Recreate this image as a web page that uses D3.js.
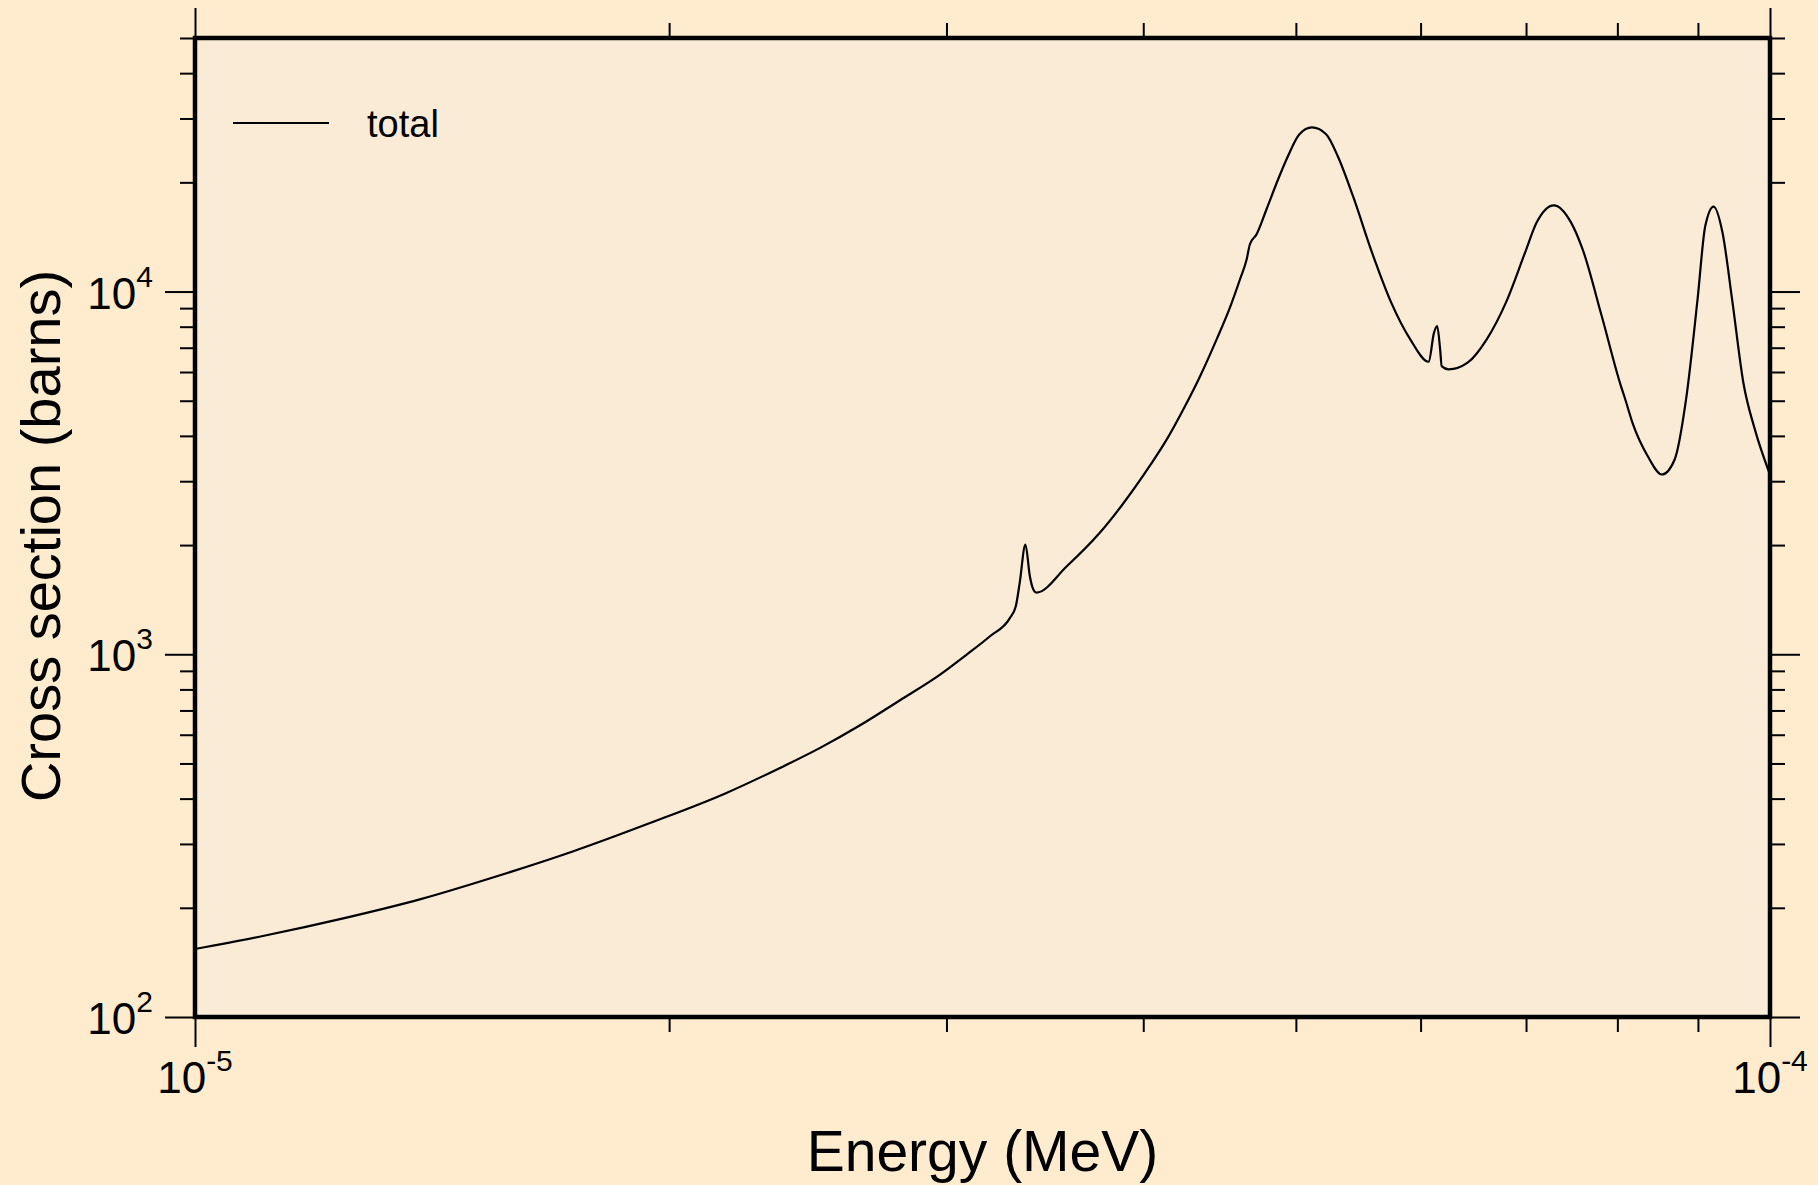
<!DOCTYPE html>
<html>
  <head>
    <meta charset="UTF-8" />
    <style>
      body { margin: 0; background-color: #ffebcd; }
      svg { display: block; }
      text { font-family: "Liberation Sans", Arial, sans-serif; fill: black; }
    </style>
  </head>
  <body>
    <svg></svg>
    <script src="https://d3js.org/d3.v7.min.js"></script>
    <script>
      // energy (MeV) and total cross section (barns)
      let energy = [
        1.000e-5, 1.110e-5, 1.242e-5, 1.389e-5, 1.553e-5, 1.737e-5, 1.943e-5, 2.173e-5, 2.352e-5, 2.494e-5,
        2.644e-5, 2.803e-5, 2.972e-5, 3.090e-5, 3.197e-5, 3.292e-5, 3.320e-5, 3.339e-5, 3.367e-5, 3.389e-5,
        3.403e-5, 3.421e-5, 3.577e-5, 3.755e-5, 3.872e-5, 4.040e-5, 4.140e-5, 4.241e-5, 4.346e-5, 4.453e-5,
        4.541e-5, 4.608e-5, 4.653e-5, 4.675e-5, 4.721e-5, 4.790e-5, 4.872e-5, 4.943e-5, 5.026e-5, 5.119e-5,
        5.226e-5, 5.315e-5, 5.435e-5, 5.589e-5, 5.748e-5, 5.910e-5, 6.071e-5, 6.119e-5, 6.147e-5, 6.174e-5,
        6.188e-5, 6.251e-5, 6.427e-5, 6.609e-5, 6.797e-5, 6.990e-5, 7.109e-5, 7.291e-5, 7.477e-5, 7.604e-5,
        7.819e-5, 8.042e-5, 8.087e-5, 8.179e-5, 8.364e-5, 8.539e-5, 8.699e-5, 8.845e-5, 8.995e-5, 9.097e-5,
        9.209e-5, 9.329e-5, 9.461e-5, 9.618e-5, 9.781e-5, 1.000e-4
      ];
      let sigma = [
        154, 168, 187, 211, 244, 286, 342, 414, 486, 552,
        637, 747, 879, 998, 1121, 1260, 1356, 1573, 2006, 1641,
        1524, 1479, 1748, 2165, 2555, 3315, 3911, 4730, 5834, 7383,
        9045, 10810, 12270, 13500, 14380, 16860, 20400, 23650, 27150, 28340,
        27150, 23650, 18340, 12800, 9320, 7383, 6406, 7701, 8034, 6926,
        6229, 6100, 6365, 7383, 9320, 12800, 15490, 17290, 15490, 13070,
        8558, 5486, 5096, 4347, 3516, 3130, 3443, 5041, 9517, 15160,
        17150, 14540, 9517, 5606, 4168, 3130
      ];

      let xMajor = [1e-5, 1e-4];
      let xMinor = [2e-5, 3e-5, 4e-5, 5e-5, 6e-5, 7e-5, 8e-5, 9e-5];
      let xLabels = ["-5", "-4"];
      let yMajor = [1e2, 1e3, 1e4];
      let yMinor = [200, 300, 400, 500, 600, 700, 800, 900,
                    2000, 3000, 4000, 5000, 6000, 7000, 8000, 9000,
                    20000, 30000, 40000, 50000];
      let yLabels = ["2", "3", "4"];

      let seriesName = "total";
      let xTitle = "Energy (MeV)";
      let yTitle = "Cross section (barns)";

      let width = 1818,
        height = 1185;
      let mLeft = 195, mRight = 1770, mTop = 38, mBottom = 1017;

      let svg = d3.select("svg").attr("width", width).attr("height", height);

      let x = d3.scaleLog().domain([1e-5, 1e-4]).range([mLeft, mRight]);
      let y = d3.scaleLog().domain([100, 50000]).range([mBottom, mTop]);

      // plot area
      svg.append("rect")
        .attr("x", mLeft).attr("y", mTop)
        .attr("width", mRight - mLeft).attr("height", mBottom - mTop)
        .attr("fill", "#faebd7");

      // ticks on all four sides, pointing outward
      function ticks(axisFn, scale, values, size, transform) {
        svg.append("g")
          .attr("transform", transform)
          .call(axisFn(scale).tickValues(values).tickSize(size).tickFormat(""))
          .call(g => g.select(".domain").remove())
          .selectAll("line").attr("stroke", "black").attr("stroke-width", 2);
      }
      ticks(d3.axisBottom, x, xMinor, 15, `translate(0,${mBottom})`);
      ticks(d3.axisBottom, x, xMajor, 30, `translate(0,${mBottom})`);
      ticks(d3.axisTop, x, xMinor, 15, `translate(0,${mTop})`);
      ticks(d3.axisTop, x, xMajor, 30, `translate(0,${mTop})`);
      ticks(d3.axisLeft, y, yMinor, 15, `translate(${mLeft},0)`);
      ticks(d3.axisLeft, y, yMajor, 30, `translate(${mLeft},0)`);
      ticks(d3.axisRight, y, yMinor, 15, `translate(${mRight},0)`);
      ticks(d3.axisRight, y, yMajor, 30, `translate(${mRight},0)`);

      // tick labels as 10 with superscript
      let xl = svg.append("g").selectAll("text")
        .data(xMajor)
        .join("text")
        .attr("x", d => x(d))
        .attr("y", mBottom + 76)
        .attr("text-anchor", "middle")
        .attr("font-size", 44);
      xl.append("tspan").text("10");
      xl.append("tspan").attr("font-size", 30).attr("dy", -22).text((d, i) => xLabels[i]);

      let yl = svg.append("g").selectAll("text")
        .data(yMajor)
        .join("text")
        .attr("x", mLeft - 42)
        .attr("y", d => y(d) + 17)
        .attr("text-anchor", "end")
        .attr("font-size", 44);
      yl.append("tspan").text("10");
      yl.append("tspan").attr("font-size", 30).attr("dy", -22).text((d, i) => yLabels[i]);

      // curve
      let line = d3.line()
        .x(d => x(d[0]))
        .y(d => y(d[1]))
        .curve(d3.curveMonotoneX);

      svg.append("path")
        .datum(d3.zip(energy, sigma))
        .attr("fill", "none")
        .attr("stroke", "black")
        .attr("stroke-width", 2.2)
        .attr("d", line);

      // frame
      svg.append("rect")
        .attr("x", mLeft).attr("y", mTop)
        .attr("width", mRight - mLeft).attr("height", mBottom - mTop)
        .attr("fill", "none")
        .attr("stroke", "black")
        .attr("stroke-width", 4.5);

      // legend
      svg.append("line")
        .attr("x1", 233).attr("x2", 329)
        .attr("y1", 123).attr("y2", 123)
        .attr("stroke", "black").attr("stroke-width", 2);
      svg.append("text")
        .attr("x", 367).attr("y", 137)
        .attr("font-size", 38)
        .text(seriesName);

      // axis titles
      svg.append("text")
        .attr("x", (mLeft + mRight) / 2)
        .attr("y", 1171)
        .attr("text-anchor", "middle")
        .attr("font-size", 57)
        .text(xTitle);

      svg.append("text")
        .attr("transform", "translate(60,536) rotate(-90)")
        .attr("text-anchor", "middle")
        .attr("font-size", 56)
        .text(yTitle);
    </script>
  </body>
</html>
